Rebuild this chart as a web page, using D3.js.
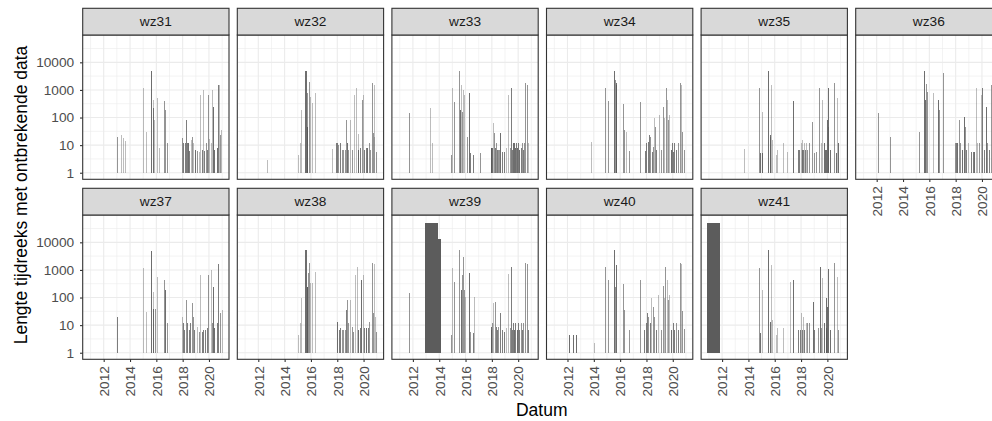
<!DOCTYPE html>
<html>
<head>
<meta charset="utf-8">
<script src="https://cdn.jsdelivr.net/npm/d3@7"></script>
<style>
html,body{margin:0;padding:0;background:#fff;overflow:hidden;}
svg{display:block;font-family:"Liberation Sans",Arial,sans-serif;}
</style>
</head>
<body>
<svg id="chart" width="992" height="421"></svg>
<script>
// ---------------- data ----------------
// facet names (wrap order)
const stations = ["wz31","wz32","wz33","wz34","wz35","wz36","wz37","wz38","wz39","wz40","wz41"];
// tick labels
const xTickYears = [2012, 2014, 2016, 2018, 2020];
const yTickValues = [1, 10, 100, 1000, 10000];
const xTitle = "Datum";
const yTitle = "Lengte tijdreeks met ontbrekende data";
// each gap: [start (decimal year), length (number of missing records), number of gaps merged at that date]
const wz31 = [[2013.04,20,2],[2013.34,23,1],[2013.44,18,1],[2013.62,14,1],[2014.96,1140,1],[2015.19,30,1],[2015.59,4960,4],[2015.72,220,3],[2015.77,430,1],[2015.85,81,1],[2016.03,500,1],[2016.2,8,1],[2016.61,400,2],[2016.68,186,2],[2016.84,12,2],
 [2017.97,17.5,2],[2018.05,11.6,3],[2018.18,11.6,3],[2018.25,81,3],[2018.3,11.6,3],[2018.43,11.6,4],[2018.51,6.1,3],[2018.61,15,1],[2018.71,19,2],[2018.81,11.6,1],[2018.94,6.6,4],[2019.06,6,2],[2019.24,5.8,1],[2019.32,650,1],[2019.44,6.6,3],[2019.52,1000,1],[2019.62,6.1,3],[2019.75,11.6,2],[2019.82,6.6,3],[2019.95,650,2],[2020.03,17,1],[2020.13,11.6,1],[2020.2,1000,1],[2020.33,250,4],[2020.41,6.6,4],[2020.58,7.6,4],[2020.71,1500,3],[2020.78,1500,1],[2020.84,23,2],[2020.91,35,1]];
const wz32 = [[2012.68,2.9,1],[2015.04,4.4,1],[2015.16,11.6,1],[2015.24,186,1],[2015.57,4960,4],[2015.67,750,2],[2015.69,46,5],[2015.72,46,5],[2015.82,1980,2],[2015.9,560,1],[2016.05,325,1],[2016.33,790,1],
 [2017.62,7,1],[2017.9,11.6,3],[2018.0,11.6,3],[2018.08,10,2],[2018.2,11.6,3],[2018.33,6.6,2],[2018.46,6.6,2],[2018.58,6.6,2],[2018.66,81,2],[2018.71,11.6,4],[2018.84,6.6,2],[2018.96,81,1],[2019.11,6.6,2],[2019.29,650,1],[2019.42,1140,1],[2019.54,25,1],[2019.59,6.6,4],[2019.72,7.6,3],[2019.87,430,2],[2019.92,650,1],[2020.03,6.6,3],[2020.15,7.6,3],[2020.28,7.6,4],[2020.38,11.6,2],[2020.48,6.6,2],[2020.61,1725,2],[2020.68,27,2],[2020.76,1500,1],[2020.81,20,1],[2020.94,5.8,2]];
const wz33 = [[2011.7,141,2],[2013.29,215,1],[2013.44,11.6,1],[2014.86,4.4,2],[2014.94,1140,1],[2015.11,370,2],[2015.47,4960,2],[2015.57,186,4],[2015.67,1500,1],[2015.72,162,2],[2015.82,990,1],[2015.92,650,1],[2016.08,20,2],[2016.25,790,4],[2016.35,5,3],[2016.56,4.4,3],[2017.11,5,2],
 [2017.9,8,4],[2017.97,8,4],[2018.04,8,4],[2018.08,61,1],[2018.14,27,2],[2018.2,7.6,3],[2018.3,11.6,2],[2018.38,6.6,3],[2018.46,6.6,2],[2018.54,6.6,2],[2018.61,27,4],[2018.76,5.8,3],[2018.96,5.8,3],[2019.1,8,1],[2019.24,650,1],[2019.35,7.6,2],[2019.42,1140,3],[2019.52,6.6,3],[2019.6,11.6,4],[2019.68,11.6,4],[2019.75,8,4],[2019.82,11.6,3],[2019.9,7.6,4],[2020.0,11.6,3],[2020.08,6.6,4],[2020.18,7.6,3],[2020.28,11.6,2],[2020.36,6.6,3],[2020.44,11.6,2],[2020.51,1725,2],[2020.68,1500,2],[2020.78,11.6,1]];
const wz34 = [[2013.75,13,1],[2014.84,1140,2],[2015.11,400,2],[2015.52,4960,4],[2015.62,2280,2],[2015.68,1725,4],[2015.72,1500,4],[2016.2,300,2],[2016.33,35,2],[2016.41,30,1],[2016.68,6.1,2],[2017.49,370,2],
 [2017.87,6.1,3],[2018.0,11.6,3],[2018.1,13.3,3],[2018.2,24,3],[2018.3,20,2],[2018.41,5.8,3],[2018.51,8.8,2],[2018.61,93,1],[2018.66,46,2],[2018.73,6.6,3],[2018.94,123,1],[2019.11,6.6,2],[2019.24,245,2],[2019.37,93,1],[2019.47,1140,2],[2019.57,430,1],[2019.62,81,2],[2019.75,123,1],[2019.85,6.6,4],[2019.92,11.6,3],[2020.0,5.8,3],[2020.13,11.6,3],[2020.25,6.6,3],[2020.38,11.6,2],[2020.53,1725,2],[2020.63,1500,1],[2020.73,31,2],[2020.84,6.6,2]];
const wz35 = [[2013.65,7,1],[2014.81,1140,2],[2014.86,5,4],[2015.01,162,1],[2015.06,5,4],[2015.49,4960,4],[2015.62,23,4],[2015.66,20,2],[2015.72,1500,1],[2015.82,15,1],[2016.08,4.4,1],[2016.2,6.6,1],[2016.66,11.6,1],[2016.96,5.8,1],[2017.39,390,4],
 [2017.8,6.6,3],[2017.88,6.6,3],[2017.96,11.6,1],[2018.04,6.6,3],[2018.1,15,1],[2018.16,6.6,3],[2018.24,11.6,1],[2018.3,6.6,3],[2018.38,11.6,1],[2018.48,6.6,2],[2018.61,11.6,2],[2018.81,70,2],[2018.99,5,2],[2019.16,5.8,2],[2019.37,1140,2],[2019.49,11.6,1],[2019.62,430,1],[2019.75,11.6,4],[2019.8,6.6,4],[2019.87,6.6,4],[2019.95,81,4],[2020.03,46,2],[2020.08,1140,4],[2020.18,6.6,4],[2020.51,1725,2],[2020.63,5,4],[2020.71,490,1],[2020.78,11.6,4]];
const wz36 = [[2012.1,141,2],[2012.99,20,2],[2015.19,30,2],[2015.57,4960,4],[2015.7,430,4],[2015.77,1620,2],[2015.85,860,2],[2016.25,790,1],[2016.63,430,4],[2016.71,186,2],[2017.04,3970,2],
 [2017.92,11.6,2],[2018.02,11.6,3],[2018.1,11.6,4],[2018.25,81,2],[2018.35,11.6,2],[2018.46,6.6,4],[2018.61,107,4],[2018.71,46,2],[2018.81,6.6,3],[2018.91,11.6,1],[2019.16,5.8,3],[2019.29,5.8,3],[2019.42,5.8,4],[2019.52,1140,1],[2019.62,11.6,1],[2019.77,11.6,2],[2019.9,650,1],[2020.03,1140,3],[2020.13,6.6,3],[2020.3,245,4],[2020.38,11.6,2],[2020.51,6.6,3],[2020.68,1500,2],[2020.8,6.6,3],[2020.9,1500,2]];
const wz37 = [[2013.04,20,3],[2014.96,1140,1],[2015.19,30,1],[2015.59,4960,4],[2015.72,162,1],[2015.77,40,4],[2015.87,40,2],[2016.03,570,1],[2016.61,430,2],[2016.68,186,4],[2016.84,12.2,2],
 [2017.97,20,1],[2018.05,11.6,3],[2018.13,6.6,3],[2018.25,81,2],[2018.35,11.6,3],[2018.46,6.6,3],[2018.56,11.6,3],[2018.68,61,2],[2018.76,20,2],[2018.86,6.6,3],[2019.06,8.8,1],[2019.24,5.8,2],[2019.32,650,1],[2019.44,5.8,3],[2019.57,6.6,3],[2019.7,6.6,3],[2019.82,7.6,3],[2019.95,650,2],[2020.13,1000,1],[2020.2,11.6,2],[2020.33,245,4],[2020.41,7.6,4],[2020.58,11.6,3],[2020.71,1620,3],[2020.84,27,2],[2020.96,35,1]];
const wz38 = [[2015.04,4.4,1],[2015.16,11.6,1],[2015.24,93,1],[2015.57,5250,4],[2015.67,245,5],[2015.7,245,5],[2015.75,750,2],[2015.82,1725,2],[2015.92,325,1],[2016.08,325,1],[2016.33,860,1],
 [2018.0,13.3,4],[2018.1,6.6,3],[2018.2,7.6,3],[2018.33,6.6,2],[2018.46,6.6,2],[2018.58,6.6,2],[2018.66,35,3],[2018.71,81,2],[2018.84,11.6,2],[2018.96,81,1],[2019.09,8.8,2],[2019.22,5.8,2],[2019.34,650,1],[2019.47,1300,1],[2019.59,6.6,4],[2019.72,7.6,3],[2019.84,430,4],[2019.97,650,1],[2020.05,7.6,3],[2020.18,7.6,4],[2020.3,7.6,3],[2020.43,13.3,2],[2020.61,1725,2],[2020.68,27,2],[2020.76,1620,1],[2020.84,20,1],[2020.94,5.8,2]];
const wz39 = [[2011.7,141,2],[2012.92,51300,8],[2013.9,12800,8],[2014.86,4.4,2],[2014.94,1140,1],[2015.11,370,2],[2015.47,5250,2],[2015.62,186,4],[2015.72,650,2],[2015.8,3000,2],[2015.87,186,2],[2015.97,107,1],[2016.25,790,4],[2016.35,5.8,2],[2016.56,5,3],[2016.61,107,1],
 [2017.9,8.8,4],[2017.97,6.6,4],[2018.04,11.6,2],[2018.08,61,1],[2018.2,70,2],[2018.3,8.8,3],[2018.4,6.6,3],[2018.5,8.8,2],[2018.61,27,3],[2018.76,6.6,3],[2018.96,5.8,3],[2019.1,8,1],[2019.24,690,1],[2019.35,7.6,2],[2019.42,1230,3],[2019.52,6.6,3],[2019.6,11.6,3],[2019.68,6.6,4],[2019.78,11.6,3],[2019.88,6.6,4],[2019.98,11.6,3],[2020.08,6.6,3],[2020.18,11.6,2],[2020.3,6.6,3],[2020.4,11.6,2],[2020.51,1820,2],[2020.68,1620,2],[2020.78,6.6,3]];
const wz40 = [[2012.15,4.4,4],[2012.41,4.4,4],[2012.66,4.4,4],[2014.0,2.2,1],[2014.84,1230,2],[2015.11,430,2],[2015.52,5250,4],[2015.62,245,2],[2015.72,1500,4],[2016.2,310,2],[2016.33,35,2],[2016.66,6.6,2],[2017.49,430,2],
 [2017.85,6.6,3],[2017.95,11.6,3],[2018.05,27,3],[2018.15,20,2],[2018.25,11.6,3],[2018.35,93,1],[2018.48,46,2],[2018.61,20,2],[2018.73,6.6,3],[2018.9,123,1],[2019.1,6.6,2],[2019.22,260,2],[2019.35,93,1],[2019.44,1230,2],[2019.54,430,1],[2019.62,81,2],[2019.75,123,1],[2019.87,6.6,4],[2020.0,11.6,3],[2020.13,6.6,3],[2020.25,11.6,2],[2020.38,6.6,3],[2020.53,1820,2],[2020.63,1620,1],[2020.73,32,2],[2020.84,7,2]];
const wz41 = [[2010.84,51300,8],[2014.81,1140,2],[2014.86,5,4],[2015.06,186,1],[2015.49,5250,4],[2015.62,13.3,4],[2015.72,1500,1],[2015.82,15,1],[2016.08,4.4,1],[2016.16,7.6,1],[2016.64,7.6,1],[2017.15,370,1],[2017.39,430,4],
 [2017.8,6.6,3],[2017.9,6.6,3],[2017.98,27,1],[2018.06,6.6,3],[2018.16,20,1],[2018.24,6.6,3],[2018.34,11.6,1],[2018.44,11.6,2],[2018.61,11.6,2],[2018.88,70,4],[2018.99,6.6,3],[2019.3,7.6,2],[2019.42,1230,4],[2019.52,7.6,2],[2019.62,490,1],[2019.75,11.6,4],[2019.87,7.6,4],[2019.92,93,4],[2020.0,46,4],[2020.08,1050,4],[2020.18,6.6,4],[2020.51,1725,2],[2020.71,540,1],[2020.78,6.6,2]];
const gapData = {wz31, wz32, wz33, wz34, wz35, wz36, wz37, wz38, wz39, wz40, wz41};

// ---------------- layout ----------------
const W = 992, H = 421;
const nCol = 6;
const panelW = 146.3, colStep = 154.6, firstLeft = 82.7;
const stripH = 26.7, panelH = 144.3;
const rowTop = [8.3, 188.3];
const recordMinutes = 10;
const axisFont = "13.7px", titleFont = "17.5px";

function decToDate(y) {
  const yr = Math.floor(y);
  const s = new Date(yr, 0, 1).getTime(), e = new Date(yr + 1, 0, 1).getTime();
  return new Date(s + (y - yr) * (e - s));
}

const svg = d3.select("#chart");
const font = '"Liberation Sans", Arial, sans-serif';

const yScaleFor = (top) => d3.scaleLog()
  .domain([Math.pow(10, -0.238), Math.pow(10, 4.99)])
  .range([top + panelH, top]);

stations.forEach((st, i) => {
  const col = i % nCol, row = Math.floor(i / nCol);
  const left = firstLeft + col * colStep;
  const sTop = rowTop[row];
  const pTop = sTop + stripH;
  const pBottom = pTop + panelH;
  const g = svg.append("g");

  const x = d3.scaleTime()
    .domain([decToDate(2010.404), decToDate(2021.52)])
    .range([left, left + panelW]);
  const y = yScaleFor(pTop);

  g.append("rect").attr("x", left).attr("y", pTop).attr("width", panelW).attr("height", panelH).attr("fill", "#fff");

  const clipId = "clip" + i;
  g.append("clipPath").attr("id", clipId).append("rect")
    .attr("x", left).attr("y", pTop).attr("width", panelW).attr("height", panelH);
  const inner = g.append("g").attr("clip-path", `url(#${clipId})`);

  // minor grid
  const minorX = d3.range(2011, 2022, 2).map(v => new Date(v, 0, 1));
  const minorY = [-0.5, 0.5, 1.5, 2.5, 3.5, 4.5].map(e => Math.pow(10, e));
  inner.selectAll(".mx").data(minorX).join("line")
    .attr("x1", d => x(d)).attr("x2", d => x(d)).attr("y1", pTop).attr("y2", pBottom)
    .attr("stroke", "#ebebeb").attr("stroke-width", 0.6);
  inner.selectAll(".my").data(minorY).join("line")
    .attr("x1", left).attr("x2", left + panelW).attr("y1", d => y(d)).attr("y2", d => y(d))
    .attr("stroke", "#ebebeb").attr("stroke-width", 0.6);
  // major grid
  const majorX = xTickYears.map(v => new Date(v, 0, 1));
  inner.selectAll(".Mx").data(majorX).join("line")
    .attr("x1", d => x(d)).attr("x2", d => x(d)).attr("y1", pTop).attr("y2", pBottom)
    .attr("stroke", "#ebebeb").attr("stroke-width", 1.1);
  inner.selectAll(".My").data(yTickValues).join("line")
    .attr("x1", left).attr("x2", left + panelW).attr("y1", d => y(d)).attr("y2", d => y(d))
    .attr("stroke", "#ebebeb").attr("stroke-width", 1.1);

  // bars
  const alpha = 0.4;
  inner.selectAll(".bar").data(gapData[st]).join("rect")
    .attr("x", d => x(decToDate(d[0])))
    .attr("width", d => {
      const s = decToDate(d[0]);
      const e = new Date(s.getTime() + d[1] * recordMinutes * 60000);
      return Math.max(1, x(e) - x(s));
    })
    .attr("y", d => y(d[1]))
    .attr("height", d => y(1) - y(d[1]))
    .attr("fill", "#595959")
    .attr("fill-opacity", d => 1 - Math.pow(1 - alpha, d[2]))
    .attr("shape-rendering", "crispEdges");

  // panel border
  g.append("rect").attr("x", left).attr("y", pTop).attr("width", panelW).attr("height", panelH)
    .attr("fill", "none").attr("stroke", "#333333").attr("stroke-width", 1.1);

  // strip
  g.append("rect").attr("x", left).attr("y", sTop).attr("width", panelW).attr("height", stripH)
    .attr("fill", "#d9d9d9").attr("stroke", "#333333").attr("stroke-width", 1.1);
  g.append("text").attr("x", left + panelW / 2).attr("y", sTop + stripH / 2)
    .attr("text-anchor", "middle").attr("dominant-baseline", "central")
    .attr("font-family", font).attr("font-size", axisFont).attr("fill", "#1a1a1a").text(st);

  if (col === 0) {
    const ya = g.append("g").attr("transform", `translate(${left},0)`)
      .call(d3.axisLeft(y).tickValues(yTickValues).tickFormat(d3.format("d")).tickSize(2.7).tickPadding(5.8));
    ya.select(".domain").remove();
    ya.selectAll(".tick line").attr("stroke", "#333333").attr("stroke-width", 1.1);
    ya.selectAll(".tick text").attr("fill", "#4d4d4d").attr("font-size", axisFont).attr("font-family", font);
  }
  const below = i + nCol;
  if (below >= stations.length) {
    const xa = g.append("g").attr("transform", `translate(0,${pBottom})`)
      .call(d3.axisBottom(x).tickValues(majorX).tickFormat(d3.timeFormat("%Y")).tickSize(2.7).tickPadding(2.5));
    xa.select(".domain").remove();
    xa.selectAll(".tick line").attr("stroke", "#333333").attr("stroke-width", 1.1);
    xa.selectAll(".tick text")
      .attr("fill", "#4d4d4d").attr("font-size", axisFont).attr("font-family", font)
      .attr("transform", "rotate(-90)")
      .attr("text-anchor", "end").attr("dy", "0.35em").attr("x", -6.8).attr("y", 0);
  }
});

// axis titles
svg.append("text").attr("x", 541.7).attr("y", 416).attr("text-anchor", "middle")
  .attr("font-family", font).attr("font-size", titleFont).attr("fill", "#000").text(xTitle);
svg.append("text").attr("transform", `translate(27,195) rotate(-90)`)
  .attr("text-anchor", "middle")
  .attr("font-family", font).attr("font-size", titleFont).attr("fill", "#000").text(yTitle);
</script>
</body>
</html>
